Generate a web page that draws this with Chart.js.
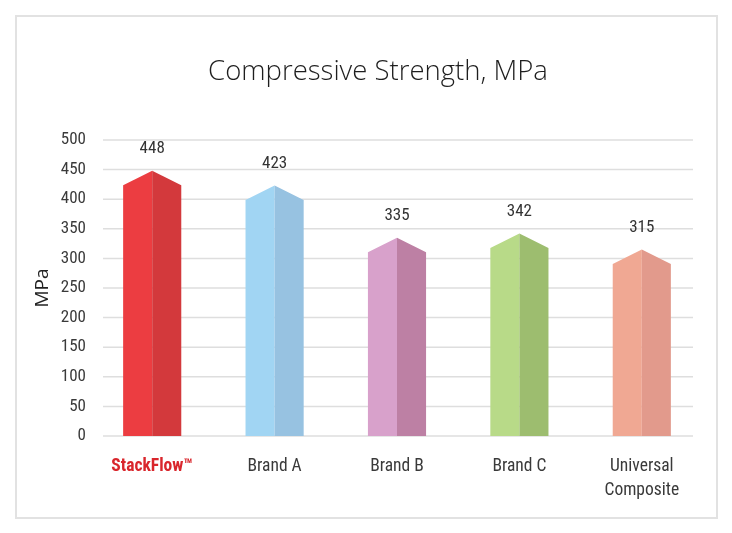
<!DOCTYPE html>
<html>
<head>
<meta charset="utf-8">
<script src="https://cdn.jsdelivr.net/npm/chart.js@4.4.1/dist/chart.umd.min.js"></script>
<style>
  html, body { margin: 0; padding: 0; background: #fff; }
  #frame {
    position: absolute; left: 15px; top: 15px;
    width: 699px; height: 500px;
    border: 2px solid #e2e2e2;
  }
  #chart { position: absolute; left: 0; top: 0; }
</style>
</head>
<body>
<div id="frame"></div>
<canvas id="chart" width="732" height="533"></canvas>
<script>
// data
const brands = ['StackFlow\u2122', 'Brand A', 'Brand B', 'Brand C', ['Universal', 'Composite']];
const strength = [448, 423, 335, 342, 315];
const yTicks = [0, 50, 100, 150, 200, 250, 300, 350, 400, 450, 500];
const chartTitle = 'Compressive Strength, MPa';

// light (left face) and dark (right face) colours for each bar
const lightFace = ['#ec3d41', '#a1d5f3', '#d8a1cb', '#b8da88', '#f0a893'];
const darkFace = ['#d3393c', '#97c2e1', '#bd80a4', '#9dbd6f', '#e29a8c'];

const condensed = "'Roboto Condensed', 'Liberation Sans Narrow', Roboto, sans-serif";

// gridlines only span part of the plot width, title sits off-centre
const gridPlugin = {
  id: 'partialGrid',
  beforeDatasetsDraw(chart) {
    const ctx = chart.ctx;
    const y = chart.scales.y;
    ctx.save();
    ctx.strokeStyle = '#dedede';
    ctx.lineWidth = 1.5;
    yTicks.forEach(v => {
      const py = y.getPixelForValue(v);
      ctx.beginPath();
      ctx.moveTo(103, py);
      ctx.lineTo(693, py);
      ctx.stroke();
    });
    ctx.fillStyle = '#1e1e1e';
    ctx.font = "300 27.5px 'Open Sans', Lato, sans-serif";
    ctx.textAlign = 'center';
    ctx.textBaseline = 'middle';
    ctx.fillText(chartTitle, 378, 72);
    ctx.restore();
  }
};

// pointed two-tone bars and value labels
const prismPlugin = {
  id: 'prismBars',
  afterDatasetsDraw(chart) {
    const ctx = chart.ctx;
    const meta = chart.getDatasetMeta(0);
    meta.data.forEach((bar, i) => {
      const { x, y, base, width } = bar.getProps(['x', 'y', 'base', 'width'], true);
      const half = width / 2;
      const drop = half * 0.5;
      // left face
      ctx.fillStyle = lightFace[i];
      ctx.beginPath();
      ctx.moveTo(x - half, base);
      ctx.lineTo(x - half, y + drop);
      ctx.lineTo(x, y);
      ctx.lineTo(x, base);
      ctx.closePath();
      ctx.fill();
      // right face
      ctx.fillStyle = darkFace[i];
      ctx.beginPath();
      ctx.moveTo(x, base);
      ctx.lineTo(x, y);
      ctx.lineTo(x + half, y + drop);
      ctx.lineTo(x + half, base);
      ctx.closePath();
      ctx.fill();
      // value
      ctx.fillStyle = '#333';
      ctx.font = '17px ' + condensed;
      ctx.textAlign = 'center';
      ctx.textBaseline = 'middle';
      ctx.fillText(String(strength[i]), x, y - 22);
    });
  }
};

new Chart(document.getElementById('chart'), {
  type: 'bar',
  data: {
    labels: brands,
    datasets: [{
      data: strength,
      backgroundColor: 'rgba(0,0,0,0)',
      categoryPercentage: 1,
      barPercentage: 0.475
    }]
  },
  options: {
    responsive: false,
    animation: false,
    layout: { padding: { left: 0, right: 29, top: 140, bottom: 0 } },
    plugins: {
      legend: { display: false },
      tooltip: { enabled: false },
      title: { display: false }
    },
    scales: {
      x: {
        grid: { display: false, drawTicks: false },
        border: { display: false },
        ticks: {
          padding: 18,
          maxRotation: 0,
          autoSkip: false,
          color: ctx => ctx.index === 0 ? '#d9262c' : '#3a3a3a',
          font: ctx => ({
            family: condensed,
            size: 17.5,
            weight: ctx.index === 0 ? 'bold' : 'normal',
            lineHeight: 1.4
          })
        },
        afterFit(scale) { scale.height = 97; }
      },
      y: {
        min: 0,
        max: 500,
        grid: { display: false, drawTicks: false },
        border: { display: false },
        ticks: {
          stepSize: 50,
          padding: 5,
          color: '#3a3a3a',
          font: { family: condensed, size: 17 }
        },
        title: {
          display: true,
          text: 'MPa',
          color: '#222',
          font: { family: "'Open Sans', Lato, sans-serif", size: 19 },
          padding: { top: 31, bottom: 0 }
        },
        afterFit(scale) { scale.width = 91; }
      }
    }
  },
  plugins: [gridPlugin, prismPlugin]
});
</script>
</body>
</html>
